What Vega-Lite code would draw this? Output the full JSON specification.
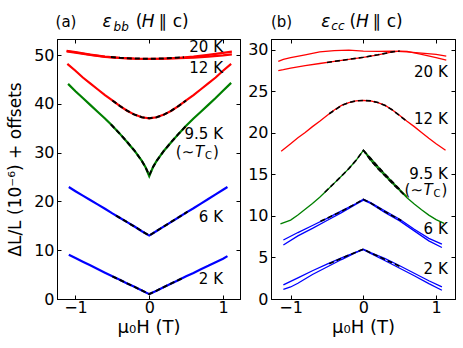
{
"$schema":"https://vega.github.io/schema/vega-lite/v6.json",
"padding":{"left":6,"top":12,"right":5,"bottom":5},
"spacing":6,
"config":{"font":"DejaVu Sans","view":{"stroke":"black","strokeWidth":1},
"axis":{"grid":false,"domainColor":"black","tickColor":"black","labelColor":"black","labelFont":"DejaVu Sans","labelFontSize":16,"titleFont":"DejaVu Sans","titleFontSize":17,"titleFontWeight":"normal","titleColor":"black","tickSize":-4,"labelPadding":7}},
"datasets":{
"bb":[
{"T":"2 K","b":"a","H":-1.09,"v":9.08},{"T":"2 K","b":"a","H":-1.0,"v":8.4},{"T":"2 K","b":"a","H":-0.9,"v":7.65},{"T":"2 K","b":"a","H":-0.8,"v":6.9},{"T":"2 K","b":"a","H":-0.7,"v":6.15},{"T":"2 K","b":"a","H":-0.6,"v":5.4},{"T":"2 K","b":"a","H":-0.5,"v":4.65},{"T":"2 K","b":"a","H":-0.4,"v":3.95},{"T":"2 K","b":"a","H":-0.3,"v":3.2},{"T":"2 K","b":"a","H":-0.2,"v":2.5},{"T":"2 K","b":"a","H":-0.1,"v":1.75},{"T":"2 K","b":"a","H":0,"v":1.0},{"T":"2 K","b":"a","H":0.1,"v":1.7},{"T":"2 K","b":"a","H":0.2,"v":2.45},{"T":"2 K","b":"a","H":0.3,"v":3.2},{"T":"2 K","b":"a","H":0.4,"v":3.9},{"T":"2 K","b":"a","H":0.5,"v":4.65},{"T":"2 K","b":"a","H":0.6,"v":5.35},{"T":"2 K","b":"a","H":0.7,"v":6.1},{"T":"2 K","b":"a","H":0.8,"v":6.8},{"T":"2 K","b":"a","H":0.9,"v":7.55},{"T":"2 K","b":"a","H":1.0,"v":8.25},{"T":"2 K","b":"a","H":1.06,"v":8.8},
{"T":"6 K","b":"a","H":-1.09,"v":22.95},{"T":"6 K","b":"a","H":-1.0,"v":22.1},{"T":"6 K","b":"a","H":-0.9,"v":21.2},{"T":"6 K","b":"a","H":-0.8,"v":20.3},{"T":"6 K","b":"a","H":-0.7,"v":19.4},{"T":"6 K","b":"a","H":-0.6,"v":18.5},{"T":"6 K","b":"a","H":-0.5,"v":17.55},{"T":"6 K","b":"a","H":-0.4,"v":16.65},{"T":"6 K","b":"a","H":-0.3,"v":15.75},{"T":"6 K","b":"a","H":-0.2,"v":14.85},{"T":"6 K","b":"a","H":-0.1,"v":13.9},{"T":"6 K","b":"a","H":0,"v":13.0},{"T":"6 K","b":"a","H":0.1,"v":13.95},{"T":"6 K","b":"a","H":0.2,"v":14.9},{"T":"6 K","b":"a","H":0.3,"v":15.8},{"T":"6 K","b":"a","H":0.4,"v":16.75},{"T":"6 K","b":"a","H":0.5,"v":17.7},{"T":"6 K","b":"a","H":0.6,"v":18.6},{"T":"6 K","b":"a","H":0.7,"v":19.55},{"T":"6 K","b":"a","H":0.8,"v":20.5},{"T":"6 K","b":"a","H":0.9,"v":21.45},{"T":"6 K","b":"a","H":1.0,"v":22.4},{"T":"6 K","b":"a","H":1.06,"v":22.95},
{"T":"9.5 K","b":"a","H":-1.1,"v":44.1},{"T":"9.5 K","b":"a","H":-1.0,"v":42.6},{"T":"9.5 K","b":"a","H":-0.9,"v":41.2},{"T":"9.5 K","b":"a","H":-0.8,"v":39.8},{"T":"9.5 K","b":"a","H":-0.7,"v":38.4},{"T":"9.5 K","b":"a","H":-0.6,"v":37.0},{"T":"9.5 K","b":"a","H":-0.5,"v":35.5},{"T":"9.5 K","b":"a","H":-0.4,"v":33.9},{"T":"9.5 K","b":"a","H":-0.3,"v":32.2},{"T":"9.5 K","b":"a","H":-0.2,"v":30.4},{"T":"9.5 K","b":"a","H":-0.1,"v":28.3},{"T":"9.5 K","b":"a","H":-0.05,"v":27.0},{"T":"9.5 K","b":"a","H":0,"v":25.2},{"T":"9.5 K","b":"a","H":0.05,"v":27.0},{"T":"9.5 K","b":"a","H":0.1,"v":28.3},{"T":"9.5 K","b":"a","H":0.2,"v":30.4},{"T":"9.5 K","b":"a","H":0.3,"v":32.2},{"T":"9.5 K","b":"a","H":0.4,"v":33.9},{"T":"9.5 K","b":"a","H":0.5,"v":35.5},{"T":"9.5 K","b":"a","H":0.6,"v":37.0},{"T":"9.5 K","b":"a","H":0.7,"v":38.4},{"T":"9.5 K","b":"a","H":0.8,"v":39.8},{"T":"9.5 K","b":"a","H":0.9,"v":41.2},{"T":"9.5 K","b":"a","H":1.0,"v":42.7},{"T":"9.5 K","b":"a","H":1.11,"v":44.3},
{"T":"12 K","b":"a","H":-1.11,"v":48.2},{"T":"12 K","b":"a","H":-1.0,"v":46.8},{"T":"12 K","b":"a","H":-0.9,"v":45.4},{"T":"12 K","b":"a","H":-0.8,"v":44.2},{"T":"12 K","b":"a","H":-0.7,"v":43.0},{"T":"12 K","b":"a","H":-0.6,"v":41.8},{"T":"12 K","b":"a","H":-0.5,"v":40.7},{"T":"12 K","b":"a","H":-0.4,"v":39.6},{"T":"12 K","b":"a","H":-0.3,"v":38.6},{"T":"12 K","b":"a","H":-0.2,"v":37.8},{"T":"12 K","b":"a","H":-0.1,"v":37.25},{"T":"12 K","b":"a","H":0,"v":37.05},{"T":"12 K","b":"a","H":0.1,"v":37.25},{"T":"12 K","b":"a","H":0.2,"v":37.8},{"T":"12 K","b":"a","H":0.3,"v":38.6},{"T":"12 K","b":"a","H":0.4,"v":39.6},{"T":"12 K","b":"a","H":0.5,"v":40.7},{"T":"12 K","b":"a","H":0.6,"v":41.8},{"T":"12 K","b":"a","H":0.7,"v":43.0},{"T":"12 K","b":"a","H":0.8,"v":44.2},{"T":"12 K","b":"a","H":0.9,"v":45.4},{"T":"12 K","b":"a","H":1.0,"v":46.8},{"T":"12 K","b":"a","H":1.11,"v":48.2},
{"T":"20 K","b":"a","H":-1.12,"v":50.85},{"T":"20 K","b":"a","H":-1.0,"v":50.6},{"T":"20 K","b":"a","H":-0.8,"v":50.1},{"T":"20 K","b":"a","H":-0.6,"v":49.7},{"T":"20 K","b":"a","H":-0.4,"v":49.45},{"T":"20 K","b":"a","H":-0.2,"v":49.3},{"T":"20 K","b":"a","H":0,"v":49.25},{"T":"20 K","b":"a","H":0.2,"v":49.3},{"T":"20 K","b":"a","H":0.4,"v":49.45},{"T":"20 K","b":"a","H":0.6,"v":49.7},{"T":"20 K","b":"a","H":0.8,"v":50.05},{"T":"20 K","b":"a","H":1.0,"v":50.45},{"T":"20 K","b":"a","H":1.12,"v":50.7},
{"T":"20 K","b":"b","H":-1.12,"v":50.75},{"T":"20 K","b":"b","H":-1.0,"v":50.5},{"T":"20 K","b":"b","H":-0.8,"v":50.05},{"T":"20 K","b":"b","H":-0.6,"v":49.65},{"T":"20 K","b":"b","H":-0.4,"v":49.4},{"T":"20 K","b":"b","H":-0.2,"v":49.25},{"T":"20 K","b":"b","H":0,"v":49.2},{"T":"20 K","b":"b","H":0.2,"v":49.25},{"T":"20 K","b":"b","H":0.4,"v":49.35},{"T":"20 K","b":"b","H":0.6,"v":49.5},{"T":"20 K","b":"b","H":0.8,"v":49.7},{"T":"20 K","b":"b","H":1.0,"v":49.95},{"T":"20 K","b":"b","H":1.12,"v":50.15}
],
"bbfit":[
{"T":"2 K","b":"a","H":-0.5,"v":4.65},{"T":"2 K","b":"a","H":-0.3,"v":3.2},{"T":"2 K","b":"a","H":-0.1,"v":1.75},{"T":"2 K","b":"a","H":0,"v":1.0},{"T":"2 K","b":"a","H":0.1,"v":1.7},{"T":"2 K","b":"a","H":0.3,"v":3.2},{"T":"2 K","b":"a","H":0.47,"v":4.42},
{"T":"6 K","b":"a","H":-0.45,"v":17.1},{"T":"6 K","b":"a","H":-0.2,"v":14.85},{"T":"6 K","b":"a","H":0,"v":13.0},{"T":"6 K","b":"a","H":0.2,"v":14.9},{"T":"6 K","b":"a","H":0.52,"v":17.9},
{"T":"9.5 K","b":"a","H":-0.52,"v":35.8},{"T":"9.5 K","b":"a","H":-0.4,"v":33.9},{"T":"9.5 K","b":"a","H":-0.3,"v":32.2},{"T":"9.5 K","b":"a","H":-0.2,"v":30.4},{"T":"9.5 K","b":"a","H":-0.1,"v":28.3},{"T":"9.5 K","b":"a","H":-0.05,"v":27.0},{"T":"9.5 K","b":"a","H":0,"v":25.4},{"T":"9.5 K","b":"a","H":0.05,"v":27.0},{"T":"9.5 K","b":"a","H":0.1,"v":28.3},{"T":"9.5 K","b":"a","H":0.2,"v":30.4},{"T":"9.5 K","b":"a","H":0.3,"v":32.2},{"T":"9.5 K","b":"a","H":0.4,"v":33.9},{"T":"9.5 K","b":"a","H":0.5,"v":35.5},
{"T":"12 K","b":"a","H":-0.5,"v":40.7},{"T":"12 K","b":"a","H":-0.4,"v":39.6},{"T":"12 K","b":"a","H":-0.3,"v":38.6},{"T":"12 K","b":"a","H":-0.2,"v":37.8},{"T":"12 K","b":"a","H":-0.1,"v":37.25},{"T":"12 K","b":"a","H":0,"v":37.05},{"T":"12 K","b":"a","H":0.1,"v":37.25},{"T":"12 K","b":"a","H":0.2,"v":37.8},{"T":"12 K","b":"a","H":0.3,"v":38.6},{"T":"12 K","b":"a","H":0.4,"v":39.6},{"T":"12 K","b":"a","H":0.5,"v":40.7},
{"T":"20 K","b":"a","H":-0.52,"v":49.6},{"T":"20 K","b":"a","H":-0.4,"v":49.45},{"T":"20 K","b":"a","H":-0.2,"v":49.3},{"T":"20 K","b":"a","H":0,"v":49.25},{"T":"20 K","b":"a","H":0.2,"v":49.3},{"T":"20 K","b":"a","H":0.47,"v":49.55}
],
"cc":[
{"T":"2 K","b":"a","H":-1.1,"v":1.7},{"T":"2 K","b":"a","H":-0.9,"v":2.55},{"T":"2 K","b":"a","H":-0.7,"v":3.4},{"T":"2 K","b":"a","H":-0.5,"v":4.2},{"T":"2 K","b":"a","H":-0.3,"v":4.95},{"T":"2 K","b":"a","H":-0.1,"v":5.65},{"T":"2 K","b":"a","H":0,"v":6.0},{"T":"2 K","b":"a","H":0.1,"v":5.6},{"T":"2 K","b":"a","H":0.3,"v":4.85},{"T":"2 K","b":"a","H":0.5,"v":4.0},{"T":"2 K","b":"a","H":0.7,"v":3.1},{"T":"2 K","b":"a","H":0.9,"v":2.2},{"T":"2 K","b":"a","H":1.08,"v":1.45},
{"T":"2 K","b":"b","H":-1.1,"v":1.17},{"T":"2 K","b":"b","H":-1.0,"v":1.45},{"T":"2 K","b":"b","H":-0.9,"v":1.9},{"T":"2 K","b":"b","H":-0.7,"v":2.95},{"T":"2 K","b":"b","H":-0.5,"v":3.85},{"T":"2 K","b":"b","H":-0.3,"v":4.75},{"T":"2 K","b":"b","H":-0.1,"v":5.6},{"T":"2 K","b":"b","H":0,"v":5.95},{"T":"2 K","b":"b","H":0.1,"v":5.5},{"T":"2 K","b":"b","H":0.3,"v":4.6},{"T":"2 K","b":"b","H":0.5,"v":3.7},{"T":"2 K","b":"b","H":0.7,"v":2.8},{"T":"2 K","b":"b","H":0.9,"v":1.85},{"T":"2 K","b":"b","H":1.08,"v":1.05},
{"T":"6 K","b":"a","H":-1.1,"v":7.1},{"T":"6 K","b":"a","H":-0.9,"v":8.0},{"T":"6 K","b":"a","H":-0.7,"v":8.85},{"T":"6 K","b":"a","H":-0.5,"v":9.7},{"T":"6 K","b":"a","H":-0.3,"v":10.6},{"T":"6 K","b":"a","H":-0.1,"v":11.5},{"T":"6 K","b":"a","H":0,"v":12.0},{"T":"6 K","b":"a","H":0.1,"v":11.6},{"T":"6 K","b":"a","H":0.3,"v":10.6},{"T":"6 K","b":"a","H":0.5,"v":9.6},{"T":"6 K","b":"a","H":0.7,"v":8.4},{"T":"6 K","b":"a","H":0.9,"v":7.3},{"T":"6 K","b":"a","H":1.08,"v":6.6},
{"T":"6 K","b":"b","H":-1.1,"v":6.5},{"T":"6 K","b":"b","H":-0.9,"v":7.6},{"T":"6 K","b":"b","H":-0.7,"v":8.5},{"T":"6 K","b":"b","H":-0.5,"v":9.45},{"T":"6 K","b":"b","H":-0.3,"v":10.4},{"T":"6 K","b":"b","H":-0.1,"v":11.4},{"T":"6 K","b":"b","H":0,"v":11.9},{"T":"6 K","b":"b","H":0.1,"v":11.5},{"T":"6 K","b":"b","H":0.3,"v":10.4},{"T":"6 K","b":"b","H":0.5,"v":9.4},{"T":"6 K","b":"b","H":0.7,"v":8.2},{"T":"6 K","b":"b","H":0.9,"v":7.0},{"T":"6 K","b":"b","H":1.08,"v":6.2},
{"T":"9.5 K","b":"a","H":-1.14,"v":9.05},{"T":"9.5 K","b":"a","H":-1.0,"v":9.5},{"T":"9.5 K","b":"a","H":-0.9,"v":10.1},{"T":"9.5 K","b":"a","H":-0.8,"v":10.8},{"T":"9.5 K","b":"a","H":-0.7,"v":11.5},{"T":"9.5 K","b":"a","H":-0.6,"v":12.25},{"T":"9.5 K","b":"a","H":-0.5,"v":13.1},{"T":"9.5 K","b":"a","H":-0.4,"v":13.95},{"T":"9.5 K","b":"a","H":-0.3,"v":14.8},{"T":"9.5 K","b":"a","H":-0.2,"v":15.7},{"T":"9.5 K","b":"a","H":-0.1,"v":16.7},{"T":"9.5 K","b":"a","H":0,"v":17.9},{"T":"9.5 K","b":"a","H":0.1,"v":16.7},{"T":"9.5 K","b":"a","H":0.2,"v":15.7},{"T":"9.5 K","b":"a","H":0.3,"v":14.8},{"T":"9.5 K","b":"a","H":0.4,"v":13.9},{"T":"9.5 K","b":"a","H":0.5,"v":13.05},{"T":"9.5 K","b":"a","H":0.6,"v":12.2},{"T":"9.5 K","b":"a","H":0.7,"v":11.45},{"T":"9.5 K","b":"a","H":0.8,"v":10.75},{"T":"9.5 K","b":"a","H":0.9,"v":10.1},{"T":"9.5 K","b":"a","H":1.0,"v":9.55},{"T":"9.5 K","b":"a","H":1.11,"v":9.1},
{"T":"9.5 K","b":"b","H":0,"v":17.9},{"T":"9.5 K","b":"b","H":0.1,"v":16.95},{"T":"9.5 K","b":"b","H":0.2,"v":15.95},{"T":"9.5 K","b":"b","H":0.3,"v":15.0},{"T":"9.5 K","b":"b","H":0.4,"v":14.1},{"T":"9.5 K","b":"b","H":0.5,"v":13.2},{"T":"9.5 K","b":"b","H":0.6,"v":12.3},
{"T":"12 K","b":"a","H":-1.13,"v":17.8},{"T":"12 K","b":"a","H":-1.0,"v":18.7},{"T":"12 K","b":"a","H":-0.9,"v":19.4},{"T":"12 K","b":"a","H":-0.8,"v":20.05},{"T":"12 K","b":"a","H":-0.7,"v":20.75},{"T":"12 K","b":"a","H":-0.6,"v":21.4},{"T":"12 K","b":"a","H":-0.5,"v":22.1},{"T":"12 K","b":"a","H":-0.4,"v":22.75},{"T":"12 K","b":"a","H":-0.3,"v":23.3},{"T":"12 K","b":"a","H":-0.2,"v":23.65},{"T":"12 K","b":"a","H":-0.1,"v":23.85},{"T":"12 K","b":"a","H":0,"v":23.9},{"T":"12 K","b":"a","H":0.1,"v":23.85},{"T":"12 K","b":"a","H":0.2,"v":23.65},{"T":"12 K","b":"a","H":0.3,"v":23.3},{"T":"12 K","b":"a","H":0.4,"v":22.75},{"T":"12 K","b":"a","H":0.5,"v":22.1},{"T":"12 K","b":"a","H":0.6,"v":21.4},{"T":"12 K","b":"a","H":0.7,"v":20.75},{"T":"12 K","b":"a","H":0.8,"v":20.05},{"T":"12 K","b":"a","H":0.9,"v":19.35},{"T":"12 K","b":"a","H":1.0,"v":18.7},{"T":"12 K","b":"a","H":1.13,"v":17.9},
{"T":"20 K","b":"a","H":-1.17,"v":28.6},{"T":"20 K","b":"a","H":-1.1,"v":28.85},{"T":"20 K","b":"a","H":-1.0,"v":29.05},{"T":"20 K","b":"a","H":-0.8,"v":29.4},{"T":"20 K","b":"a","H":-0.6,"v":29.75},{"T":"20 K","b":"a","H":-0.4,"v":29.9},{"T":"20 K","b":"a","H":-0.2,"v":29.95},{"T":"20 K","b":"a","H":0,"v":29.85},{"T":"20 K","b":"a","H":0.2,"v":29.8},{"T":"20 K","b":"a","H":0.4,"v":29.85},{"T":"20 K","b":"a","H":0.6,"v":29.75},{"T":"20 K","b":"a","H":0.8,"v":29.6},{"T":"20 K","b":"a","H":1.0,"v":29.45},{"T":"20 K","b":"a","H":1.14,"v":29.25},
{"T":"20 K","b":"b","H":-1.17,"v":27.5},{"T":"20 K","b":"b","H":-1.1,"v":27.6},{"T":"20 K","b":"b","H":-1.0,"v":27.8},{"T":"20 K","b":"b","H":-0.8,"v":28.1},{"T":"20 K","b":"b","H":-0.6,"v":28.35},{"T":"20 K","b":"b","H":-0.4,"v":28.6},{"T":"20 K","b":"b","H":-0.2,"v":28.85},{"T":"20 K","b":"b","H":0,"v":29.1},{"T":"20 K","b":"b","H":0.2,"v":29.4},{"T":"20 K","b":"b","H":0.4,"v":29.75},{"T":"20 K","b":"b","H":0.5,"v":29.85},{"T":"20 K","b":"b","H":0.6,"v":29.8},{"T":"20 K","b":"b","H":0.8,"v":29.45},{"T":"20 K","b":"b","H":1.0,"v":29.05},{"T":"20 K","b":"b","H":1.14,"v":28.75}
],
"ccfit":[
{"T":"2 K","b":"a","H":-0.47,"v":4.25},{"T":"2 K","b":"a","H":-0.3,"v":4.9},{"T":"2 K","b":"a","H":-0.1,"v":5.65},{"T":"2 K","b":"a","H":0,"v":6.0},{"T":"2 K","b":"a","H":0.1,"v":5.55},{"T":"2 K","b":"a","H":0.3,"v":4.75},{"T":"2 K","b":"a","H":0.52,"v":3.85},
{"T":"6 K","b":"a","H":-0.59,"v":9.35},{"T":"6 K","b":"a","H":-0.3,"v":10.55},{"T":"6 K","b":"a","H":-0.1,"v":11.5},{"T":"6 K","b":"a","H":0,"v":12.0},{"T":"6 K","b":"a","H":0.1,"v":11.55},{"T":"6 K","b":"a","H":0.3,"v":10.5},{"T":"6 K","b":"a","H":0.52,"v":9.45},
{"T":"9.5 K","b":"a","H":-0.53,"v":12.85},{"T":"9.5 K","b":"a","H":-0.4,"v":13.95},{"T":"9.5 K","b":"a","H":-0.3,"v":14.8},{"T":"9.5 K","b":"a","H":-0.2,"v":15.7},{"T":"9.5 K","b":"a","H":-0.1,"v":16.7},{"T":"9.5 K","b":"a","H":0,"v":17.9},{"T":"9.5 K","b":"a","H":0.1,"v":16.7},{"T":"9.5 K","b":"a","H":0.2,"v":15.7},{"T":"9.5 K","b":"a","H":0.3,"v":14.8},{"T":"9.5 K","b":"a","H":0.4,"v":13.9},{"T":"9.5 K","b":"a","H":0.56,"v":12.55},
{"T":"9.5 K","b":"b","H":0,"v":17.9},{"T":"9.5 K","b":"b","H":0.1,"v":16.95},{"T":"9.5 K","b":"b","H":0.2,"v":15.95},{"T":"9.5 K","b":"b","H":0.3,"v":15.0},{"T":"9.5 K","b":"b","H":0.4,"v":14.1},{"T":"9.5 K","b":"b","H":0.5,"v":13.2},
{"T":"12 K","b":"a","H":-0.47,"v":22.3},{"T":"12 K","b":"a","H":-0.3,"v":23.3},{"T":"12 K","b":"a","H":-0.2,"v":23.65},{"T":"12 K","b":"a","H":-0.1,"v":23.85},{"T":"12 K","b":"a","H":0,"v":23.9},{"T":"12 K","b":"a","H":0.1,"v":23.85},{"T":"12 K","b":"a","H":0.2,"v":23.65},{"T":"12 K","b":"a","H":0.3,"v":23.3},{"T":"12 K","b":"a","H":0.4,"v":22.75},{"T":"12 K","b":"a","H":0.59,"v":21.45},
{"T":"20 K","b":"a","H":-0.5,"v":28.48},{"T":"20 K","b":"a","H":-0.2,"v":28.85},{"T":"20 K","b":"a","H":0,"v":29.1},{"T":"20 K","b":"a","H":0.2,"v":29.4},{"T":"20 K","b":"a","H":0.4,"v":29.75},{"T":"20 K","b":"a","H":0.5,"v":29.85}
]
},
"hconcat":[
{
"width":183,"height":260,
"resolve":{"axis":{"x":"independent","y":"independent"}},
"layer":[
{"data":{"name":"bb"},"mark":{"type":"line","strokeWidth":2.2},
"encoding":{
"x":{"field":"H","type":"quantitative","scale":{"domain":[-1.25,1.23],"nice":false,"zero":false},"axis":{"orient":"bottom","values":[-1,0,1],"title":"μ₀H (T)","titlePadding":3,"titleFontSize":18,"labelPadding":4}},
"y":{"field":"v","type":"quantitative","scale":{"domain":[0,53.3],"nice":false,"zero":false},"axis":{"orient":"left","values":[0,10,20,30,40,50],"title":"ΔL/L (10⁻⁶) + offsets","titlePadding":9}},
"color":{"field":"T","type":"nominal","scale":{"domain":["2 K","6 K","9.5 K","12 K","20 K"],"range":["#0000ff","#0000ff","#008000","#ff0000","#ff0000"]},"legend":null},
"detail":{"field":"b"}}},
{"data":{"name":"bbfit"},"mark":{"type":"line","color":"black","strokeWidth":2,"strokeDash":[5,3]},
"encoding":{
"x":{"field":"H","type":"quantitative","scale":{"domain":[-1.25,1.23],"nice":false,"zero":false},"axis":{"orient":"top","values":[-1,0,1],"labels":false,"title":null}},
"y":{"field":"v","type":"quantitative","scale":{"domain":[0,53.3],"nice":false,"zero":false},"axis":{"orient":"right","values":[0,10,20,30,40,50],"labels":false,"title":null}},
"detail":[{"field":"T"},{"field":"b"}]}},
{"data":{"values":[{"H":1.0,"v":51.6,"t":"20 K"},{"H":1.0,"v":47.3,"t":"12 K"},{"H":1.0,"v":33.9,"t":"9.5 K"},{"H":1.0,"v":16.8,"t":"6 K"},{"H":1.0,"v":4.1,"t":"2 K"}]},
"mark":{"type":"text","align":"right","baseline":"middle","fontSize":15,"color":"black"},
"encoding":{"x":{"field":"H","type":"quantitative","axis":null},"y":{"field":"v","type":"quantitative","axis":null},"text":{"field":"t"}}},
{"data":{"values":[{"H":0.36,"v":30.1,"t":"(∼"},{"H":0.864,"v":30.1,"t":")"}]},
"mark":{"type":"text","align":"left","baseline":"middle","fontSize":15,"color":"black"},
"encoding":{"x":{"field":"H","type":"quantitative","axis":null},"y":{"field":"v","type":"quantitative","axis":null},"text":{"field":"t"}}},
{"data":{"values":[{"H":0.62,"v":30.1,"t":"T"}]},
"mark":{"type":"text","align":"left","baseline":"middle","fontSize":15,"fontStyle":"italic","color":"black"},
"encoding":{"x":{"field":"H","type":"quantitative","axis":null},"y":{"field":"v","type":"quantitative","axis":null},"text":{"field":"t"}}},
{"data":{"values":[{"H":0.755,"v":29.3,"t":"C"}]},
"mark":{"type":"text","align":"left","baseline":"middle","fontSize":10,"color":"black"},
"encoding":{"x":{"field":"H","type":"quantitative","axis":null},"y":{"field":"v","type":"quantitative","axis":null},"text":{"field":"t"}}},
{"data":{"values":[{"H":-1.27,"v":55.74,"t":"(a)"}]},
"mark":{"type":"text","align":"left","baseline":"alphabetic","fontSize":15,"color":"black"},
"encoding":{"x":{"field":"H","type":"quantitative","axis":null},"y":{"field":"v","type":"quantitative","axis":null},"text":{"field":"t"}}},
{"data":{"values":[{"H":-0.184,"v":55.74,"t":"("},{"H":0.13,"v":55.74,"t":" ∥ c)"}]},
"mark":{"type":"text","align":"left","baseline":"alphabetic","fontSize":17,"color":"black"},
"encoding":{"x":{"field":"H","type":"quantitative","axis":null},"y":{"field":"v","type":"quantitative","axis":null},"text":{"field":"t"}}},
{"data":{"values":[{"H":-0.633,"v":55.74,"t":"ε"},{"H":-0.1,"v":55.74,"t":"H"}]},
"mark":{"type":"text","align":"left","baseline":"alphabetic","fontSize":17,"fontStyle":"italic","color":"black"},
"encoding":{"x":{"field":"H","type":"quantitative","axis":null},"y":{"field":"v","type":"quantitative","axis":null},"text":{"field":"t"}}},
{"data":{"values":[{"H":-0.483,"v":55.0,"t":"bb"}]},
"mark":{"type":"text","align":"left","baseline":"alphabetic","fontSize":12,"fontStyle":"italic","color":"black"},
"encoding":{"x":{"field":"H","type":"quantitative","axis":null},"y":{"field":"v","type":"quantitative","axis":null},"text":{"field":"t"}}}
]
},
{
"width":184,"height":260,
"resolve":{"axis":{"x":"independent","y":"independent"}},
"layer":[
{"data":{"name":"cc"},"mark":{"type":"line","strokeWidth":1.3},
"encoding":{
"x":{"field":"H","type":"quantitative","scale":{"domain":[-1.27,1.26],"nice":false,"zero":false},"axis":{"orient":"bottom","values":[-1,0,1],"title":"μ₀H (T)","titlePadding":3,"titleFontSize":18,"labelPadding":4}},
"y":{"field":"v","type":"quantitative","scale":{"domain":[0,31.3],"nice":false,"zero":false},"axis":{"orient":"left","values":[0,5,10,15,20,25,30],"title":null}},
"color":{"field":"T","type":"nominal","scale":{"domain":["2 K","6 K","9.5 K","12 K","20 K"],"range":["#0000ff","#0000ff","#008000","#ff0000","#ff0000"]},"legend":null},
"detail":{"field":"b"}}},
{"data":{"name":"ccfit"},"mark":{"type":"line","color":"black","strokeWidth":1.6,"strokeDash":[5,3]},
"encoding":{
"x":{"field":"H","type":"quantitative","scale":{"domain":[-1.27,1.26],"nice":false,"zero":false},"axis":{"orient":"top","values":[-1,0,1],"labels":false,"title":null}},
"y":{"field":"v","type":"quantitative","scale":{"domain":[0,31.3],"nice":false,"zero":false},"axis":{"orient":"right","values":[0,5,10,15,20,25,30],"labels":false,"title":null}},
"detail":[{"field":"T"},{"field":"b"}]}},
{"data":{"values":[{"H":1.16,"v":27.3,"t":"20 K"},{"H":1.16,"v":21.7,"t":"12 K"},{"H":1.16,"v":15.1,"t":"9.5 K"},{"H":1.16,"v":8.4,"t":"6 K"},{"H":1.16,"v":3.65,"t":"2 K"}]},
"mark":{"type":"text","align":"right","baseline":"middle","fontSize":15,"color":"black"},
"encoding":{"x":{"field":"H","type":"quantitative","axis":null},"y":{"field":"v","type":"quantitative","axis":null},"text":{"field":"t"}}},
{"data":{"values":[{"H":0.566,"v":13.1,"t":"(∼"},{"H":1.076,"v":13.1,"t":")"}]},
"mark":{"type":"text","align":"left","baseline":"middle","fontSize":15,"color":"black"},
"encoding":{"x":{"field":"H","type":"quantitative","axis":null},"y":{"field":"v","type":"quantitative","axis":null},"text":{"field":"t"}}},
{"data":{"values":[{"H":0.828,"v":13.1,"t":"T"}]},
"mark":{"type":"text","align":"left","baseline":"middle","fontSize":15,"fontStyle":"italic","color":"black"},
"encoding":{"x":{"field":"H","type":"quantitative","axis":null},"y":{"field":"v","type":"quantitative","axis":null},"text":{"field":"t"}}},
{"data":{"values":[{"H":0.966,"v":12.65,"t":"C"}]},
"mark":{"type":"text","align":"left","baseline":"middle","fontSize":10,"color":"black"},
"encoding":{"x":{"field":"H","type":"quantitative","axis":null},"y":{"field":"v","type":"quantitative","axis":null},"text":{"field":"t"}}},
{"data":{"values":[{"H":-1.27,"v":32.77,"t":"(b)"}]},
"mark":{"type":"text","align":"left","baseline":"alphabetic","fontSize":15,"color":"black"},
"encoding":{"x":{"field":"H","type":"quantitative","axis":null},"y":{"field":"v","type":"quantitative","axis":null},"text":{"field":"t"}}},
{"data":{"values":[{"H":-0.19,"v":32.77,"t":"("},{"H":0.13,"v":32.77,"t":" ∥ c)"}]},
"mark":{"type":"text","align":"left","baseline":"alphabetic","fontSize":17,"color":"black"},
"encoding":{"x":{"field":"H","type":"quantitative","axis":null},"y":{"field":"v","type":"quantitative","axis":null},"text":{"field":"t"}}},
{"data":{"values":[{"H":-0.58,"v":32.77,"t":"ε"},{"H":-0.1,"v":32.77,"t":"H"}]},
"mark":{"type":"text","align":"left","baseline":"alphabetic","fontSize":17,"fontStyle":"italic","color":"black"},
"encoding":{"x":{"field":"H","type":"quantitative","axis":null},"y":{"field":"v","type":"quantitative","axis":null},"text":{"field":"t"}}},
{"data":{"values":[{"H":-0.44,"v":32.35,"t":"cc"}]},
"mark":{"type":"text","align":"left","baseline":"alphabetic","fontSize":12,"fontStyle":"italic","color":"black"},
"encoding":{"x":{"field":"H","type":"quantitative","axis":null},"y":{"field":"v","type":"quantitative","axis":null},"text":{"field":"t"}}}
]
}
]
}
